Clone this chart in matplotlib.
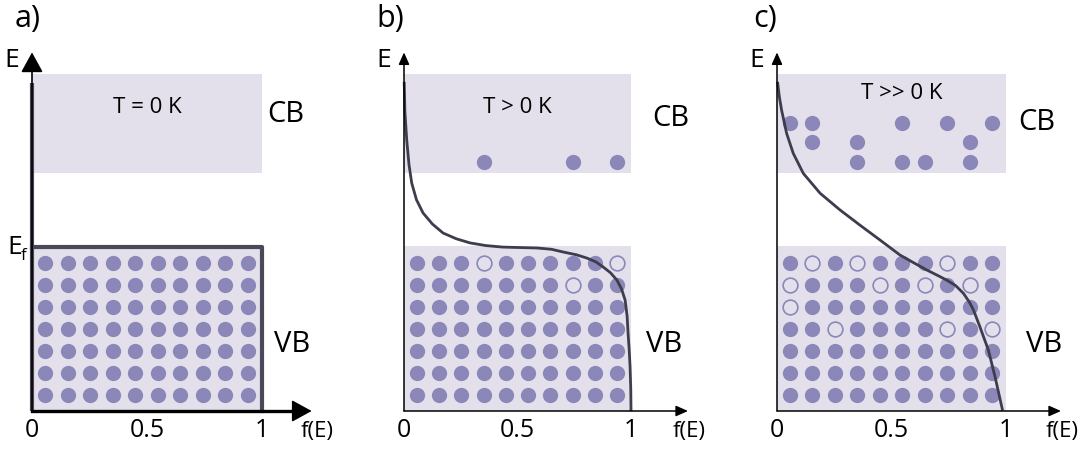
import matplotlib
matplotlib.use("Agg")
import matplotlib.pyplot as plt

plt.rcParams['font.family'] = ['Open Sans', 'DejaVu Sans']

# occupation f(E) against energy; energy in units of one dot row
band_vb = (0.0, 7.5)
band_cb = (10.8, 15.3)
e_top = 16.3

dot_cols = [0.057 + 0.098 * i for i in range(10)]
vb_rows = [6.73, 5.73, 4.73, 3.73, 2.73, 1.73, 0.73]   # top row first
cb_rows = [13.1, 12.25, 11.3]

# holes in the valence band, (column, row from top)
holes_b = [(3, 0), (9, 0), (7, 1)]
holes_c = [(1, 0), (3, 0), (7, 0),
           (0, 1), (4, 1), (6, 1), (8, 1),
           (0, 2),
           (2, 3), (7, 3), (9, 3)]
# electrons in the conduction band, (column, row)
elec_b = [(3, 2), (7, 2), (9, 2)]
elec_c = [(0, 0), (1, 0), (5, 0), (7, 0), (9, 0),
          (1, 1), (3, 1), (8, 1),
          (3, 2), (5, 2), (6, 2), (8, 2)]

# T > 0 K curve, (f, E)
curve_b_f = [0.001, 0.004, 0.012, 0.022, 0.034, 0.055, 0.084, 0.125, 0.172, 0.23, 0.291,
             0.36, 0.436, 0.51, 0.586, 0.65, 0.70, 0.76, 0.806, 0.845, 0.877, 0.91,
             0.938, 0.958, 0.974, 0.983, 0.987, 0.992, 0.996, 0.999, 1.0]
curve_b_e = [14.9, 13.6, 12.32, 11.2, 10.36, 9.6, 9.0, 8.5, 8.09, 7.83, 7.64,
             7.52, 7.45, 7.43, 7.41, 7.35, 7.23, 7.1, 6.95, 6.78, 6.55, 6.28,
             5.95, 5.55, 5.05, 4.3, 3.55, 2.8, 2.0, 1.0, 0.05]
# T >> 0 K curve
curve_c_f = [0.003, 0.010, 0.020, 0.042, 0.071, 0.115, 0.188, 0.275, 0.362, 0.45, 0.537,
             0.60, 0.654, 0.70, 0.741, 0.78, 0.814, 0.84, 0.858, 0.886, 0.923, 0.952, 0.984]
curve_c_e = [14.9, 14.3, 13.68, 12.62, 11.71, 10.8, 9.9, 9.14, 8.45, 7.77, 7.09,
             6.72, 6.41, 6.17, 5.95, 5.7, 5.35, 4.95, 4.59, 3.83, 2.77, 1.56, 0.08]

band_col = '#e3e0ec'
dot_col = '#8b87b8'
line_col = '#3c3d4d'
step_col = '#4a4859'

W, H = 1082, 449
fig = plt.figure(figsize=(W / 100, H / 100), dpi=100)


def panel(ox, sx):
    ax = fig.add_axes([0, 0, 1, 1])
    ax.set_xlim(-ox / sx, (W - ox) / sx)
    ax.set_ylim((411 - H) / 22, 411 / 22)
    ax.axis('off')
    ax.patch.set_visible(False)
    return ax


def bands(ax, vb=True):
    ax.fill_between([0, 1.0], band_cb[0], band_cb[1], color=band_col, lw=0, zorder=0)
    if vb:
        ax.fill_between([0, 1.0], band_vb[0], band_vb[1], color=band_col, lw=0, zorder=0)


def dots(ax, holes=(), elecs=()):
    for r, y in enumerate(vb_rows):
        for c, x in enumerate(dot_cols):
            if (c, r) in holes:
                ax.plot(x, y, 'o', ms=10.6, mfc=band_col, mec=dot_col, mew=1.2, zorder=2)
            else:
                ax.plot(x, y, 'o', ms=11, color=dot_col, mew=0, zorder=2)
    for c, r in elecs:
        ax.plot(dot_cols[c], cb_rows[r], 'o', ms=11, color=dot_col, mew=0, zorder=2)


def axes_arrows(ax, xtip, lw, hl, hw, ms, xcol='black'):
    style = f'-|>,head_length={hl},head_width={hw}'
    ax.annotate('', xy=(0, e_top), xytext=(0, 0),
                arrowprops=dict(arrowstyle=style, lw=lw, color='black',
                                mutation_scale=ms, shrinkA=0, shrinkB=0), zorder=4)
    ax.annotate('', xy=(xtip, 0), xytext=(0, 0),
                arrowprops=dict(arrowstyle=style, lw=lw, color=xcol,
                                mutation_scale=ms, shrinkA=0, shrinkB=0), zorder=4)


def labels(ax, tag, tag_x, temp, temp_pos, cb_pos, vb_pos, fx):
    fs = 18
    ax.text(tag_x, 17.8, tag, fontsize=22, ha='center', va='center')
    ax.text(-0.088, 15.95, 'E', fontsize=19, ha='center', va='center')
    ax.text(temp_pos[0], temp_pos[1], temp, fontsize=16, ha='center', va='center')
    ax.text(cb_pos[0], cb_pos[1], 'CB', fontsize=21, ha='center', va='center')
    ax.text(vb_pos[0], vb_pos[1], 'VB', fontsize=21, ha='center', va='center')
    for v, s in zip([0, 0.5, 1], ['0', '0.5', '1']):
        ax.text(v, -0.9, s, fontsize=fs, ha='center', va='center')
    ax.text(fx, -0.95, 'f(E)', fontsize=16, ha='center', va='center')


# a) T = 0 K: step function
ax = panel(32, 230)
bands(ax)
dots(ax)
ax.plot([0, 0], [0, 14.9], color=step_col, lw=3.0, zorder=3, solid_capstyle='butt')
ax.plot([0, 1, 1], [band_vb[1] - 0.05, band_vb[1] - 0.05, 0], color=step_col, lw=3.0, zorder=3)
axes_arrows(ax, 1.216, 1.2, 0.62, 0.34, 20)
ax.plot([0, 1.17], [0, 0], color='black', lw=2.4, zorder=4)
labels(ax, 'a)', -0.02, 'T = 0 K', (0.5, 13.8), (1.104, 13.5), (1.13, 3.0), 1.24)
ax.text(-0.075, 7.45, 'E', fontsize=19, ha='center', va='center')
ax.text(-0.035, 7.05, 'f', fontsize=12, ha='center', va='center')

# b) T > 0 K
ax = panel(404, 227)
bands(ax)
dots(ax, holes_b, elec_b)
ax.plot(curve_b_f, curve_b_e, color=line_col, lw=2.0, zorder=3)
axes_arrows(ax, 1.251, 1.1, 0.45, 0.2, 16)
labels(ax, 'b)', -0.06, 'T > 0 K', (0.5, 13.8), (1.175, 13.3), (1.145, 3.0), 1.255)

# c) T >> 0 K
ax = panel(777, 229)
bands(ax)
dots(ax, holes_c, elec_c)
ax.plot(curve_c_f, curve_c_e, color=line_col, lw=2.0, zorder=3)
axes_arrows(ax, 1.24, 1.1, 0.45, 0.2, 16)
labels(ax, 'c)', -0.05, 'T >> 0 K', (0.546, 14.45), (1.135, 13.1), (1.166, 3.0), 1.245)

fig.savefig('out.png', dpi=100)
